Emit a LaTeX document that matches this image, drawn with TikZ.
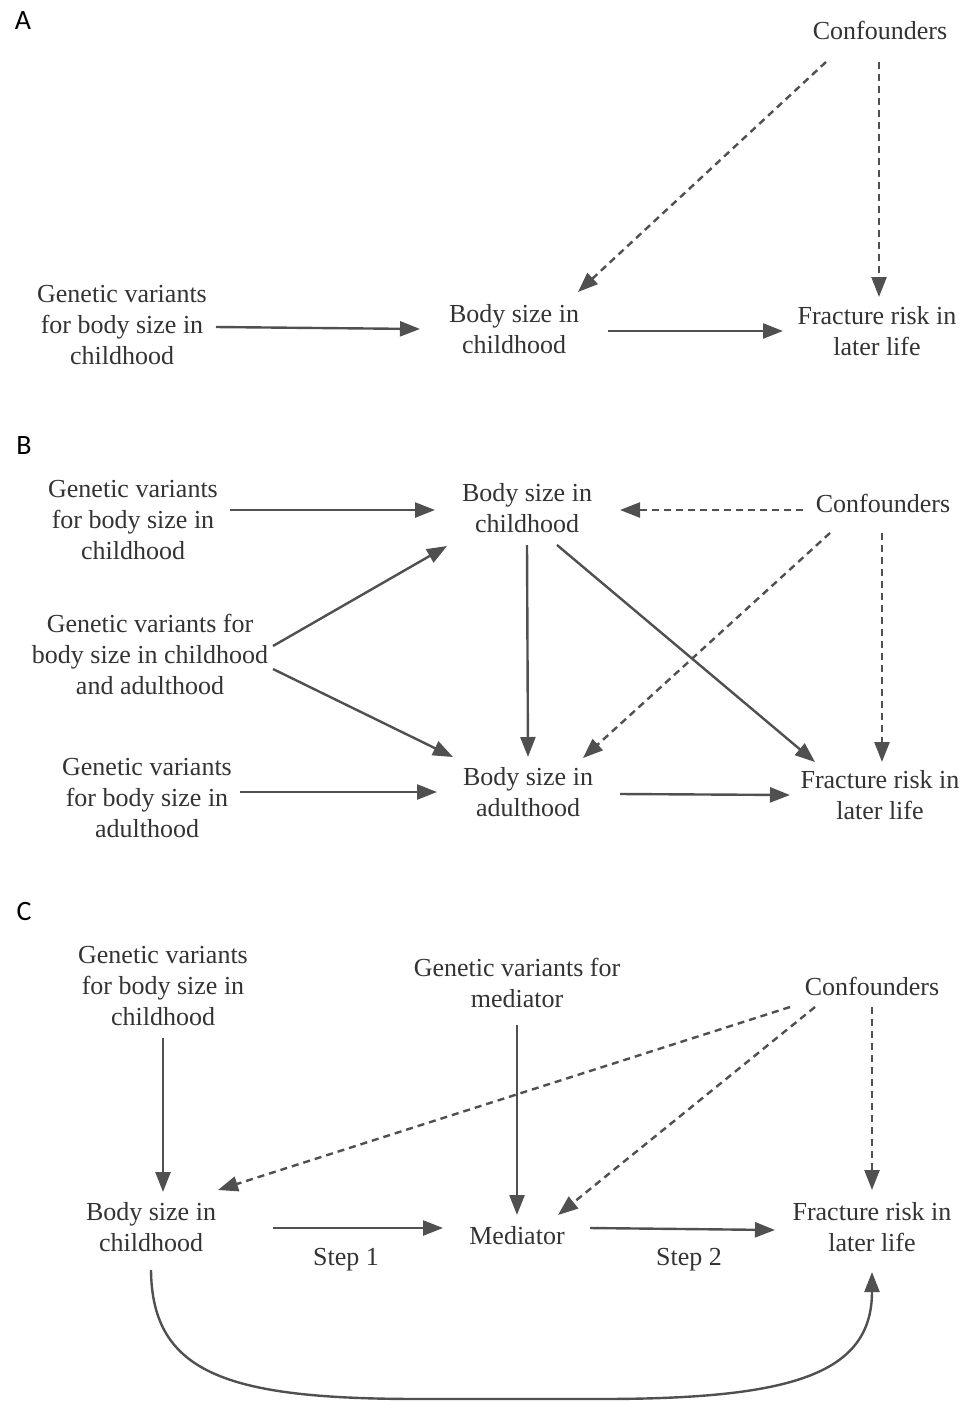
\documentclass[tikz,border=0pt]{standalone}
\usepackage{fontspec}
\setmainfont{Liberation Serif}
\newfontfamily\labelfont{Carlito}
\usetikzlibrary{arrows.meta,calc}
\definecolor{txt}{HTML}{333333}
\definecolor{ln}{HTML}{505050}
\begin{document}
\begin{tikzpicture}[x=1pt,y=-1pt,
  lbl/.style={align=center,inner sep=0pt,text=txt,font=\fontsize{26}{31}\selectfont},
  plabel/.style={inner sep=0pt,font=\labelfont\fontsize{28}{32}\selectfont,text=black},
  arr/.style={draw=ln,line width=2.4pt,-{Triangle[length=20pt,width=15pt]}},
  darr/.style={arr,dash pattern=on 7pt off 5pt},
]
\useasboundingbox (0,0) rectangle (970,1401);
\fill[white] (0,0) rectangle (970,1401);

% ---------- Panel A ----------
\node[plabel] (pA) at (23,21) {A};
\node[lbl] (confA) at (880,30) {Confounders};
\node[lbl] (genA) at (122,325) {Genetic variants\\for body size in\\childhood};
\node[lbl] (bodyA) at (514,329) {Body size in\\childhood};
\node[lbl] (fracA) at (877,331) {Fracture risk in\\later life};

\draw[arr] ($(genA)+(94,2)$) -- ($(bodyA)+(-94,0)$);
\draw[arr] ($(bodyA)+(94,2)$) -- ($(fracA)+(-94,0)$);
\draw[darr] ($(confA)+(-54,32)$) -- ($(bodyA)+(64,-37)$);
\draw[darr] ($(confA)+(-1,32)$) -- ($(fracA)+(2,-34)$);

% ---------- Panel B ----------
\node[plabel] (pB) at (24,446) {B};
\node[lbl] (genB1) at (133,520) {Genetic variants\\for body size in\\childhood};
\node[lbl] (bodyB1) at (527,508) {Body size in\\childhood};
\node[lbl] (confB) at (883,503) {Confounders};
\node[lbl] (genB2) at (150,654) {Genetic variants for\\body size in childhood\\and adulthood};
\node[lbl] (genB3) at (147,798) {Genetic variants\\for body size in\\adulthood};
\node[lbl] (bodyB2) at (528,792) {Body size in\\adulthood};
\node[lbl] (fracB) at (880,795) {Fracture risk in\\later life};

\draw[arr] ($(genB1)+(97,-10)$) -- ($(bodyB1)+(-92,2)$);
\draw[darr] ($(confB)+(-80,7)$) -- ($(bodyB1)+(93,2)$);
\draw[arr] ($(genB2)+(123,-8)$) -- ($(bodyB1)+(-80,38)$);
\draw[arr] ($(genB2)+(123,15)$) -- ($(bodyB2)+(-75,-35)$);
\draw[arr] ($(bodyB1)+(0,37)$) -- ($(bodyB2)+(0,-35)$);
\draw[arr] ($(bodyB1)+(30,37)$) -- ($(fracB)+(-65,-33)$);
\draw[darr] ($(confB)+(-53,30)$) -- ($(bodyB2)+(55,-34)$);
\draw[darr] ($(confB)+(-1,30)$) -- ($(fracB)+(2,-33)$);
\draw[arr] ($(genB3)+(93,-6)$) -- ($(bodyB2)+(-91,0)$);
\draw[arr] ($(bodyB2)+(92,2)$) -- ($(fracB)+(-90,0)$);

% ---------- Panel C ----------
\node[plabel] (pC) at (24,911) {C};
\node[lbl] (genC1) at (163,986) {Genetic variants\\for body size in\\childhood};
\node[lbl] (genMed) at (517,983) {Genetic variants for\\mediator};
\node[lbl] (confC) at (872,986) {Confounders};
\node[lbl] (bodyC) at (151,1227) {Body size in\\childhood};
\node[lbl] (med) at (517,1236) {Mediator};
\node[lbl] (fracC) at (872,1227) {Fracture risk in\\later life};
\node[lbl] (step1) at (346,1260) {Step 1};
\node[lbl] (step2) at (689,1260) {Step 2};

\draw[arr] ($(genC1)+(0,52)$) -- ($(bodyC)+(12,-35)$);
\draw[arr] ($(genMed)+(0,42)$) -- ($(med)+(0,-21)$);
\draw[darr] ($(confC)+(-82,21)$) -- ($(bodyC)+(67,-37)$);
\draw[darr] ($(confC)+(-57,21)$) -- ($(med)+(41,-21)$);
\draw[darr] ($(confC)+(0,21)$) -- ($(fracC)+(0,-37)$);
\draw[arr] ($(bodyC)+(122,1)$) -- ($(med)+(-74,-8)$);
\draw[arr] ($(med)+(73,-8)$) -- ($(fracC)+(-97,3)$);
\draw[arr] ($(bodyC)+(0,43)$) .. controls ($(bodyC)+(1,148)$) and ($(bodyC)+(79,172)$) .. ($(bodyC)+(269,172)$)
  -- ($(fracC)+(-272,172)$) .. controls ($(fracC)+(-82,172)$) and ($(fracC)+(0,148)$) .. ($(fracC)+(0,45)$);
\end{tikzpicture}
\end{document}
